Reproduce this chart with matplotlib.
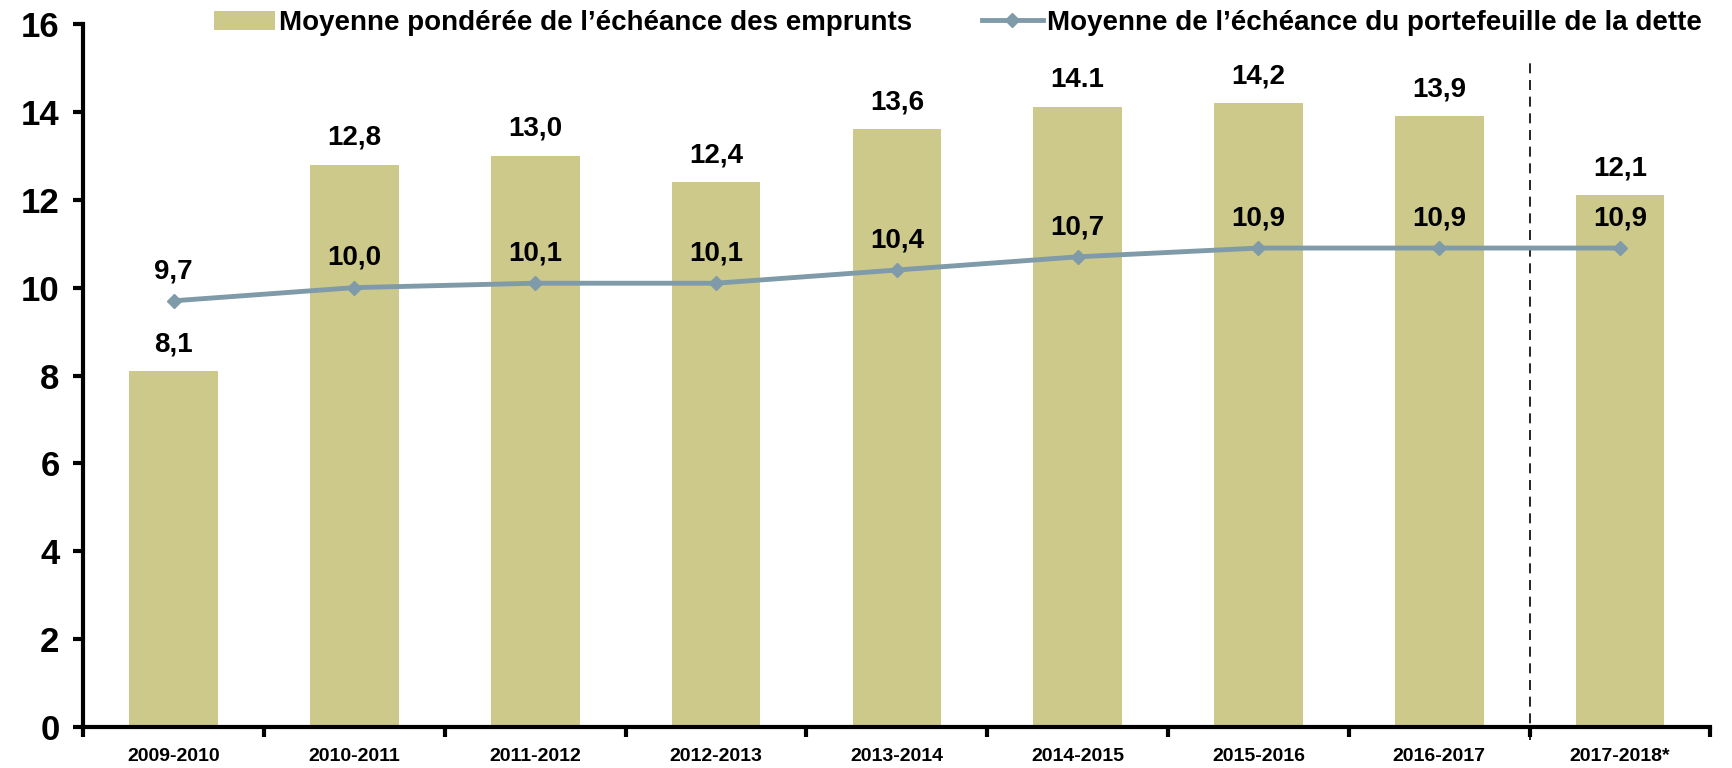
import matplotlib

matplotlib.use("Agg")

import matplotlib.pyplot as plt
import numpy as np

periods = ["2009-2010", "2010-2011", "2011-2012", "2012-2013", "2013-2014",
           "2014-2015", "2015-2016", "2016-2017", "2017-2018*"]
borrowing = [8.1, 12.8, 13.0, 12.4, 13.6, 14.1, 14.2, 13.9, 12.1]
borrowing_labels = ["8,1", "12,8", "13,0", "12,4", "13,6", "14.1", "14,2", "13,9", "12,1"]
portfolio = [9.7, 10.0, 10.1, 10.1, 10.4, 10.7, 10.9, 10.9, 10.9]
portfolio_labels = ["9,7", "10,0", "10,1", "10,1", "10,4", "10,7", "10,9", "10,9", "10,9"]

BAR = "#cdc98a"
LINE = "#7f9aa8"

plt.rcParams["font.family"] = ["Liberation Sans", "DejaVu Sans"]
plt.rcParams["font.weight"] = "bold"

fig = plt.figure(figsize=(17.33, 7.68), dpi=100)
ax = fig.add_axes([0.048, 0.053, 0.939, 0.916])

x = np.arange(len(periods))
bars = ax.bar(x, borrowing, width=0.49, color=BAR, zorder=2,
              label="Moyenne pondérée de l’échéance des emprunts")
line, = ax.plot(x, portfolio, color=LINE, lw=3.5, marker="D", ms=7, zorder=3,
                label="Moyenne de l’échéance du portefeuille de la dette")

for xi, v, t in zip(x, borrowing, borrowing_labels):
    ax.annotate(t, (xi, v), xytext=(0, 10), textcoords="offset points",
                ha="center", va="bottom", fontsize=20, fontweight="bold")
for xi, v, t in zip(x, portfolio, portfolio_labels):
    ax.annotate(t, (xi, v), xytext=(0, 12), textcoords="offset points",
                ha="center", va="bottom", fontsize=20, fontweight="bold")

# separator between actual and forecast year, runs a bit past the axis
ax.plot([7.5, 7.5], [-0.3, 15.2], color="black", lw=1.2, ls=(0, (6, 4)),
        zorder=1, clip_on=False)

ax.set_xlim(-0.5, len(periods) - 0.5)
ax.set_ylim(0, 16)
ax.set_yticks(np.arange(0, 17, 2))
ax.tick_params(axis="y", labelsize=25, width=3, length=7, direction="out", pad=10)
ax.set_xticks(np.arange(-0.5, len(periods), 1))
ax.set_xticklabels([])
ax.set_xticks(x, minor=True)
ax.set_xticklabels(periods, minor=True, fontsize=14, fontweight="bold")
ax.tick_params(axis="x", which="major", width=3, length=7, direction="out")
ax.tick_params(axis="x", which="minor", length=0, pad=15)
for lab in ax.get_yticklabels():
    lab.set_fontweight("bold")

for s in ["top", "right"]:
    ax.spines[s].set_visible(False)
for s in ["left", "bottom"]:
    ax.spines[s].set_linewidth(3)

ax.legend(handles=[bars, line], loc="upper right", bbox_to_anchor=(1.01, 1.055),
          ncol=2, frameon=False, handlelength=2.2, handletextpad=0.15,
          columnspacing=2.5, prop={"weight": "bold", "size": 20})

fig.savefig("out.png", dpi=100)
